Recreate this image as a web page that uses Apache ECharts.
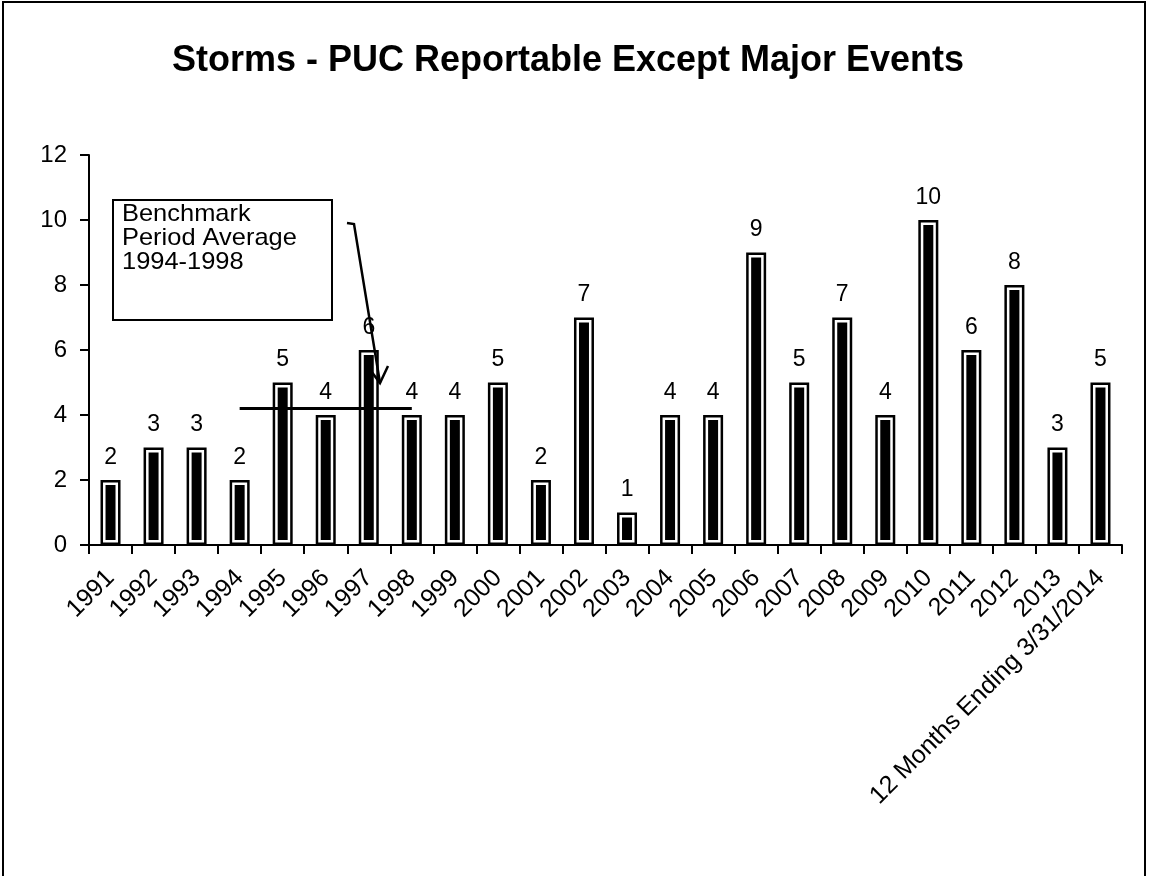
<!DOCTYPE html>
<html>
<head>
<meta charset="utf-8">
<script src="https://cdn.jsdelivr.net/npm/echarts@6/dist/echarts.min.js"></script>
<style>html,body{margin:0;padding:0;background:#fff}#c{width:1149px;height:876px}</style>
</head>
<body>
<div id="c"></div>
<script>
const categories = ['1991','1992','1993','1994','1995','1996','1997','1998','1999','2000','2001','2002','2003','2004','2005','2006','2007','2008','2009','2010','2011','2012','2013','12 Months Ending 3/31/2014'];
const storms = [2,3,3,2,5,4,6,4,4,5,2,7,1,4,4,9,5,7,4,10,6,8,3,5];
const benchmarkAverage = 4.2;
const benchmarkStart = 3;   // 1994
const benchmarkEnd = 7;     // 1998
const yTicks = [0,2,4,6,8,10,12];
const titleText = 'Storms - PUC Reportable Except Major Events';
const noteText = 'Benchmark\nPeriod Average\n1994-1998';

const FONT = '"Liberation Sans", Arial, sans-serif';
const chart = echarts.init(document.getElementById('c'));
chart.setOption({
  backgroundColor: '#fff',
  animation: false,
  grid: {left: 89, right: 27, top: 155, bottom: 331},
  xAxis: {
    type: 'category', data: categories, z: 5,
    axisLine: {lineStyle: {color: '#000', width: 2}},
    axisTick: {show: true, interval: 0, length: 9, lineStyle: {color: '#000', width: 2}},
    axisLabel: {interval: 0, rotate: 45, margin: 29, color: '#000', fontFamily: FONT, fontSize: 25}
  },
  yAxis: {
    type: 'value', min: 0, max: 12, interval: 2, z: 5,
    axisLine: {show: true, lineStyle: {color: '#000', width: 2}},
    axisTick: {show: true, length: 9, lineStyle: {color: '#000', width: 2}},
    splitLine: {show: false},
    axisLabel: {margin: 22, color: '#000', fontFamily: FONT, fontSize: 24,
      formatter: v => yTicks.includes(v) ? String(v) : ''}
  },
  series: [
    {
      type: 'bar', data: storms, barWidth: 20, z: 2,
      itemStyle: {color: '#000', borderColor: '#fff', borderWidth: 5},
      label: {show: true, position: 'top', distance: 11, color: '#000', fontFamily: FONT, fontSize: 23}
    },
    {
      type: 'bar', data: storms, barWidth: 20, barGap: '-100%', z: 3,
      itemStyle: {color: 'rgba(0,0,0,0)', borderColor: '#000', borderWidth: 2.5},
      markLine: {
        silent: true, symbol: 'none', animation: false,
        lineStyle: {color: '#000', width: 3, type: 'solid'},
        label: {show: false},
        data: [[{coord: [benchmarkStart, benchmarkAverage]}, {coord: [benchmarkEnd, benchmarkAverage]}]]
      }
    }
  ],
  graphic: [
    {type: 'rect', shape: {x: 3, y: 2, width: 1142, height: 880}, style: {fill: 'none', stroke: '#000', lineWidth: 2}, z: 10},
    {type: 'text', x: 568, y: 61, style: {text: titleText, fill: '#000', font: 'bold 36px ' + FONT, align: 'center', verticalAlign: 'middle'}, z: 11},
    {type: 'rect', shape: {x: 113, y: 200, width: 219, height: 120}, style: {fill: '#fff', stroke: '#000', lineWidth: 2}, z: 10},
    {type: 'text', x: 122, y: 202, scaleX: 1.06, style: {text: noteText, fill: '#000', font: '24px ' + FONT, lineHeight: 24}, z: 11},
    {type: 'polyline', shape: {points: [[347,223],[354,224],[380,383]]}, style: {fill: 'none', stroke: '#000', lineWidth: 2.5}, z: 11},
    {type: 'polyline', shape: {points: [[368,367],[380,383],[388,366]]}, style: {fill: 'none', stroke: '#000', lineWidth: 2.5}, z: 11}
  ]
});
</script>
</body>
</html>
